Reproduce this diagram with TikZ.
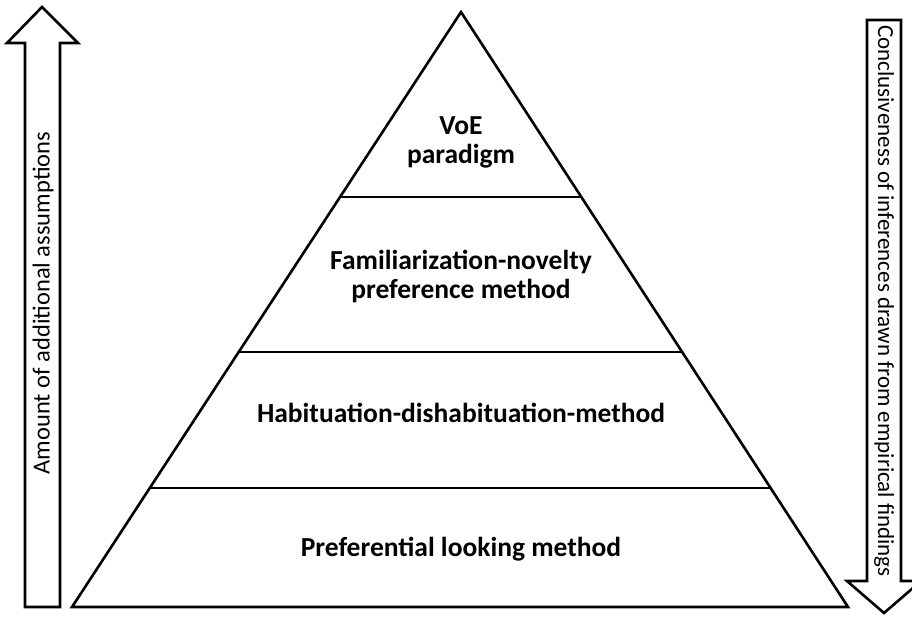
\documentclass[tikz,border=0pt]{standalone}
\usepackage{fontspec}
\setmainfont{Carlito}
\begin{document}
\begin{tikzpicture}[x=1pt,y=-1pt,
  outline/.style={draw=black,line width=2.6pt,line join=miter},
  layer/.style={font=\fontsize{27.5}{29}\selectfont\bfseries,align=center,inner sep=0pt},
  sideA/.style={font=\fontsize{24.5}{26}\selectfont,inner sep=0pt},
  sideB/.style={font=\fontsize{23}{26}\selectfont,inner sep=0pt}]
\useasboundingbox (0,0) rectangle (912,616);
% pyramid
\draw[outline] (461,12) -- (848,607) -- (72,607) -- cycle;
\draw[outline] (340,197) -- (582,197);
\draw[outline] (239,352) -- (683,352);
\draw[outline] (151,488) -- (771,488);
% left arrow
\draw[outline] (42,7) -- (78,43) -- (60,43) -- (60,607) -- (25,607) -- (25,43) -- (7,43) -- cycle;
% right arrow
\draw[outline] (867,20) -- (901,20) -- (901,581) -- (921,581) -- (884,613) -- (847,581) -- (867,581) -- cycle;
% texts
\node[layer] (voe) at (461,142) {VoE\\paradigm};
\node[layer] (fam) at (461,276) {Familiarization-novelty\\preference method};
\node[layer] (hab) at (461,413) {Habituation-dishabituation-method};
\node[layer] (pref) at (461,549) {Preferential looking method};
\node[sideA,rotate=90] (amt) at (43,303) {Amount of additional assumptions};
\node[sideB,rotate=-90] (conc) at (884,301) {Conclusiveness of inferences drawn from empirical findings};
\end{tikzpicture}
\end{document}
